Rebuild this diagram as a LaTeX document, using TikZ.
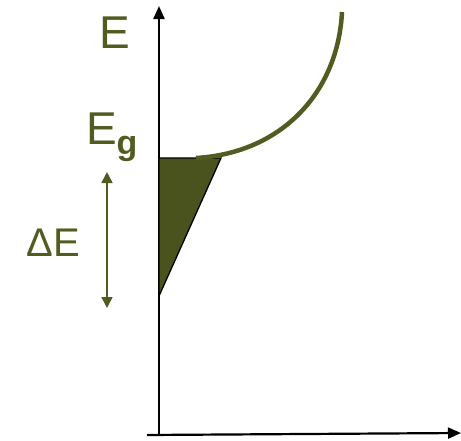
\documentclass[tikz,border=0pt]{standalone}
\usepackage{fontspec}
\setmainfont{Liberation Sans}
\usetikzlibrary{arrows.meta}
\definecolor{olive}{RGB}{82,92,32}
\definecolor{olivefill}{RGB}{74,82,30}
\tikzset{
  axis/.style={line width=2.2pt,-{Triangle[length=13pt,width=11pt]}},
  lbl/.style={text=olive,inner sep=0pt},
  darrow/.style={olive,line width=1.6pt,{Triangle[length=11pt,width=11pt]}-{Triangle[length=11pt,width=11pt]}}
}
\begin{document}
\begin{tikzpicture}[x=1pt,y=-1pt]
\useasboundingbox (0,0) rectangle (461,440);
% axes
\coordinate (o) at (159,434);
\coordinate (ytop) at (159,6);
\coordinate (xstart) at (147,435);
\coordinate (xend) at (461,433);
\draw[axis] (o) -- (ytop);
\draw[axis] (xstart) -- (xend);
% triangle
\coordinate (ta) at (159,158);
\coordinate (tb) at (221,158);
\coordinate (tc) at (159,296);
\filldraw[fill=olivefill,draw=black,line width=1.3pt] (ta) -- (tb) -- (tc) -- cycle;
% curve
\coordinate (cs) at (196,158);
\coordinate (ce) at (342,12);
\draw[olive,line width=4.5pt] (cs) .. controls (282,153) and (338,92) .. (ce);
% labels
\node[lbl,font=\fontsize{46}{46}\selectfont] (E) at (115,33) {E};
\node[lbl,font=\fontsize{46}{46}\selectfont] (Eg) at (112,137) {E\textsubscript{\fontsize{34}{34}\selectfont\textbf{g}}};
\node[lbl,font=\fontsize{40}{40}\selectfont] (dE) at (53,243) {ΔE};
% double arrow
\coordinate (da) at (107,172);
\coordinate (db) at (107,308);
\draw[darrow] (da) -- (db);
\end{tikzpicture}
\end{document}
